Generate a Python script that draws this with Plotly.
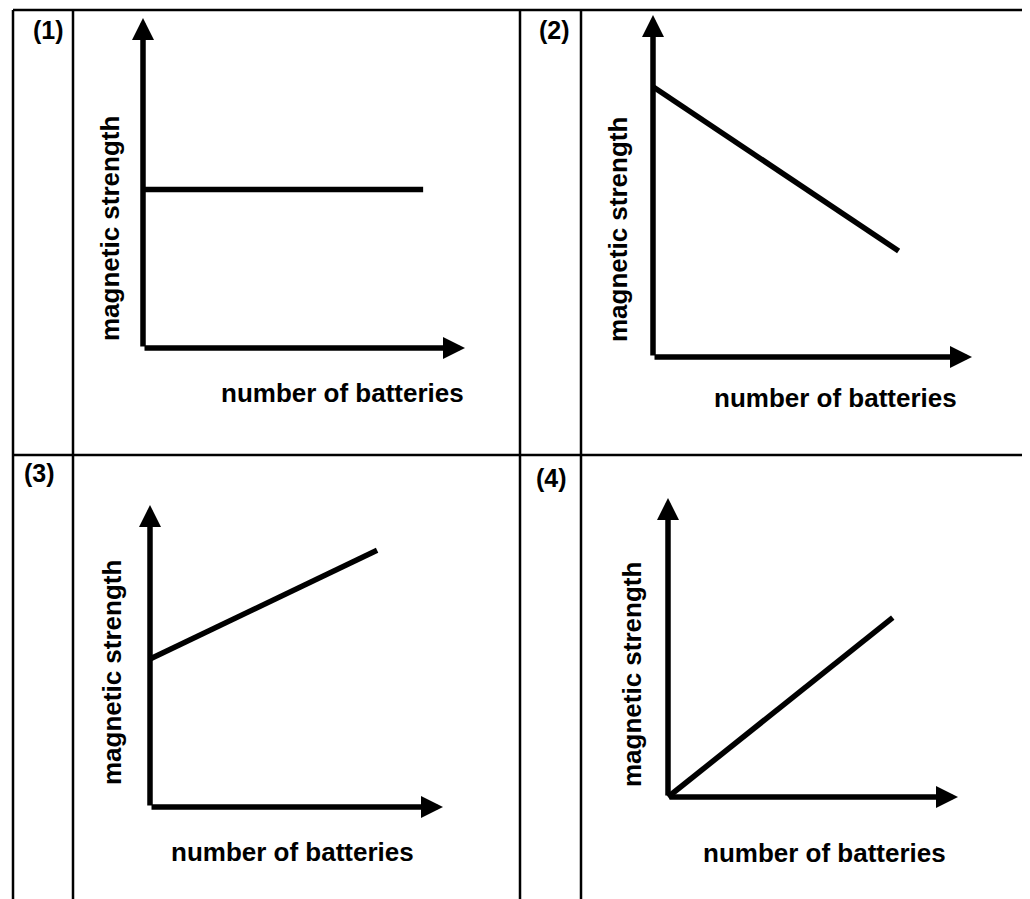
import plotly.graph_objects as go

# ---- data (conceptual graphs; axis arrow tip = 10) ----
panel_labels = ["(1)", "(2)", "(3)", "(4)"]
x_title = "number of batteries"
y_title = "magnetic strength"

p1_batteries = [0, 8.7]
p1_strength = [4.8, 4.8]
p2_batteries = [0, 7.7]
p2_strength = [7.9, 3.1]
p3_batteries = [0, 7.75]
p3_strength = [4.9, 8.5]
p4_batteries = [0, 7.75]
p4_strength = [0, 6.0]

axis_max = 10

# ---- layout geometry (page pixels; the figure sits 8px in from the page edge) ----
OFF = 8
W, H = 1030 - OFF, 899 - OFF
origins = [(143, 348), (653, 357), (150, 807), (668, 797)]
tips = [(465, 18), (972, 15), (443, 505), (958, 498)]
x_title_pos = [(342, 393), (835, 398), (292, 852), (824, 853)]
y_title_pos = [(110, 229), (618, 230), (112, 673), (632, 675)]
label_pos = [(48, 30), (554, 30), (39, 473), (551, 478)]
pad = 0.4

series = [(p1_batteries, p1_strength), (p2_batteries, p2_strength),
          (p3_batteries, p3_strength), (p4_batteries, p4_strength)]

FONT = "Liberation Sans, Arial, sans-serif"


def px2x(px):
    return (px - OFF) / W


def py2y(py):
    return 1 - (py - OFF) / H


fig = go.Figure()
layout = dict(width=W, height=H, margin=dict(l=0, r=0, t=0, b=0),
              paper_bgcolor="white", plot_bgcolor="white", showlegend=False)
annotations = []
shapes = []

for i, ((ox, oy), (tx, ty), (bx, by)) in enumerate(zip(origins, tips, series)):
    k = "" if i == 0 else str(i + 1)
    xa, ya = "xaxis" + k, "yaxis" + k
    xr, yr = "x" + k, "y" + k
    sx = (tx - ox) / axis_max
    sy = (oy - ty) / axis_max
    left = max(OFF, ox - pad * sx)
    right = min(OFF + W, tx + pad * sx)
    bottom = min(OFF + H, oy + pad * sy)
    top = max(OFF, ty - pad * sy)
    xrange = [(left - ox) / sx, (right - ox) / sx]
    yrange = [(oy - bottom) / sy, (oy - top) / sy]
    layout[xa] = dict(domain=[px2x(left), px2x(right)], range=xrange,
                      visible=False, fixedrange=True, anchor=yr)
    layout[ya] = dict(domain=[py2y(bottom), py2y(top)], range=yrange,
                      visible=False, fixedrange=True, anchor=xr)
    fig.add_trace(go.Scatter(x=bx, y=by, mode="lines", xaxis=xr, yaxis=yr,
                             line=dict(color="black", width=5.5), hoverinfo="skip"))
    # axis arrows
    for (x, y) in [(axis_max, 0), (0, axis_max)]:
        annotations.append(dict(x=x, y=y, ax=0, ay=0, xref=xr, yref=yr, axref=xr, ayref=yr,
                                text="", showarrow=True, arrowhead=2, arrowsize=0.8,
                                arrowwidth=5.5, arrowcolor="black", standoff=0, startstandoff=0))
    # titles
    px, py = x_title_pos[i]
    annotations.append(dict(x=px2x(px), y=py2y(py), xref="paper", yref="paper", text=x_title,
                            showarrow=False, xanchor="center", yanchor="middle",
                            font=dict(family=FONT, size=26, color="black", weight="bold")))
    px, py = y_title_pos[i]
    annotations.append(dict(x=px2x(px), y=py2y(py), xref="paper", yref="paper", text=y_title,
                            showarrow=False, xanchor="center", yanchor="middle", textangle=-90,
                            font=dict(family=FONT, size=26, color="black", weight="bold")))
    px, py = label_pos[i]
    annotations.append(dict(x=px2x(px), y=py2y(py), xref="paper", yref="paper", text=panel_labels[i],
                            showarrow=False, xanchor="center", yanchor="middle",
                            font=dict(family=FONT, size=25, color="black", weight="bold")))


# table borders
def vline(x, y0, y1):
    return dict(type="line", xref="paper", yref="paper", x0=px2x(x), x1=px2x(x),
                y0=py2y(y0), y1=py2y(y1), line=dict(color="black", width=2.5))


def hline(y, x0, x1):
    return dict(type="line", xref="paper", yref="paper", x0=px2x(x0), x1=px2x(x1),
                y0=py2y(y), y1=py2y(y), line=dict(color="black", width=2.5))


shapes += [hline(10, 13, 1030), hline(455, 13, 1030),
           vline(13, 10, 899), vline(73, 10, 899), vline(520, 10, 899), vline(581, 10, 899)]

layout["annotations"] = annotations
layout["shapes"] = shapes
fig.update_layout(**layout)
fig.write_html("out.html")
